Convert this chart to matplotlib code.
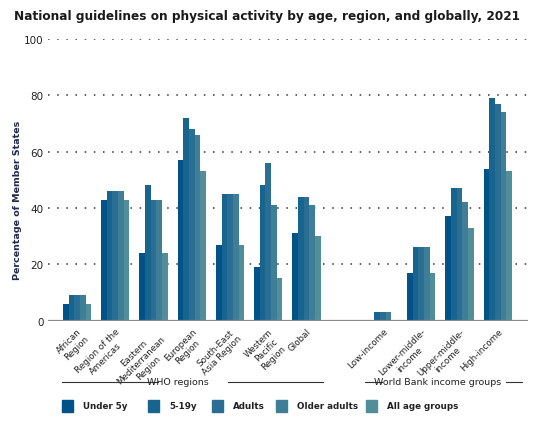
import matplotlib
matplotlib.use("Agg")
import matplotlib.pyplot as plt
from matplotlib.patches import Rectangle
from matplotlib.lines import Line2D
import numpy as np

regions = ["African\nRegion", "Region of the\nAmericas", "Eastern\nMediterranean\nRegion",
           "European\nRegion", "South-East\nAsia Region", "Western\nPacific\nRegion", "Global",
           "Low-income", "Lower-middle-\nincome", "Upper-middle-\nincome", "High-income"]
positions = [0, 1, 2, 3, 4, 5, 6, 8, 9, 10, 11]

series_names = ["Under 5y", "5-19y", "Adults", "Older adults", "All age groups"]
under5 = [6, 43, 24, 57, 27, 19, 31, 0, 17, 37, 54]
age5_19 = [9, 46, 48, 72, 45, 48, 44, 3, 26, 47, 79]
adults = [9, 46, 43, 68, 45, 56, 44, 3, 26, 47, 77]
older = [9, 46, 43, 66, 45, 41, 41, 3, 26, 42, 74]
allages = [6, 43, 24, 53, 27, 15, 30, 0, 17, 33, 53]
series = [under5, age5_19, adults, older, allages]
colors = ["#02528a", "#17648f", "#2a6e93", "#3e7e97", "#528e99"]

plt.rcParams['font.family'] = ['DejaVu Sans']
fig = plt.figure(figsize=(5.52, 4.27), dpi=100)
ax = fig.add_axes([0.087, 0.2466, 0.87, 0.66])

w = 0.148
x = np.array(positions, dtype=float)
for i, vals in enumerate(series):
    ax.bar(x + (i - 2) * w, vals, width=w, color=colors[i], linewidth=0, zorder=3)

ax.set_xlim(-0.76, 11.8)
ax.set_ylim(0, 100)
ax.set_yticks([0, 20, 40, 60, 80, 100])
ax.tick_params(axis='y', length=0, labelsize=7.5, labelcolor="#222222", pad=3)
ax.yaxis.grid(True, linestyle=(0, (1, 5)), color="#333333", linewidth=1.1, zorder=0)
ax.axhline(0, color="#8a8a8a", linewidth=1.6, zorder=4)
for s in ax.spines.values():
    s.set_visible(False)

ax.set_xticks(x)
ax.set_xticklabels(regions, rotation=45, ha='right', rotation_mode='anchor',
                   fontsize=6.3, color="#222222", multialignment='center')
ax.tick_params(axis='x', length=0, pad=4)
ax.set_ylabel("Percentage of Member States", fontsize=6.8, color="#1f2a4d",
              fontweight='bold')
ax.yaxis.set_label_coords(-0.054, 0.432)

fig.text(0.025, 0.962, "National guidelines on physical activity by age, region, and globally, 2021",
         fontsize=8.7, fontweight='bold', color="#1a1a1a", va='center')

# group captions
gy = 1 - 383 / 427
fig.text(178 / 552, gy, "WHO regions", fontsize=6.8, color="#222222", ha='center', va='center')
fig.add_artist(Line2D([62 / 552, 158 / 552], [gy, gy], color="#333333", linewidth=0.8))
fig.add_artist(Line2D([228 / 552, 323 / 552], [gy, gy], color="#333333", linewidth=0.8))
fig.text(438 / 552, gy, "World Bank income groups", fontsize=6.8, color="#222222",
         ha='center', va='center')
fig.add_artist(Line2D([365 / 552, 382 / 552], [gy, gy], color="#333333", linewidth=0.8))
fig.add_artist(Line2D([506 / 552, 522 / 552], [gy, gy], color="#333333", linewidth=0.8))

# legend
ly = 1 - 407 / 427
box_x = [62, 148, 212, 276, 366]
for bx, name, c in zip(box_x, series_names, colors):
    fig.add_artist(Rectangle((bx / 552, ly - 6 / 427), 11 / 552, 12 / 427, color=c,
                             transform=fig.transFigure))
    fig.text((bx + 21) / 552, ly, name, fontsize=6.3, color="#222222", fontweight='bold',
             va='center')

fig.savefig("out.png", dpi=100)
